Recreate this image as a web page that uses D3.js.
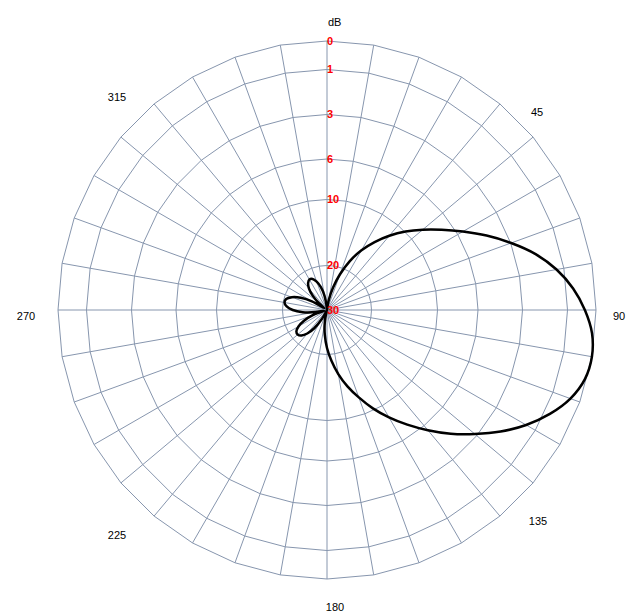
<!DOCTYPE html>
<html>
<head>
<meta charset="utf-8">
<script src="https://cdn.jsdelivr.net/npm/d3@7"></script>
<style>
  html, body { margin: 0; padding: 0; background: #ffffff; }
  svg { display: block; }
</style>
</head>
<body>
<svg id="chart" width="641" height="615"></svg>
<script>
// ---- data ----
const ringLevels = [0, 1, 3, 6, 10, 20, 30];           // dB rings
const ringLabels = ["0", "1", "3", "6", "10", "20", "30"];
const angleTickLabels = ["45", "90", "135", "180", "225", "270", "315"];
const angleTickValues = [45, 90, 135, 180, 225, 270, 315];
const spokeAngles = [0,10,20,30,40,50,60,70,80,90,100,110,120,130,140,150,160,170,
                     180,190,200,210,220,230,240,250,260,270,280,290,300,310,320,330,340,350];
const patternAngles = [0,5,10,15,20,25,30,35,40,45,50,55,60,65,70,75,80,85,90,95,
                       100,105,110,115,120,125,130,135,140,145,150,155,160,165,170,175,
                       180,185,190,195,200,205,210,215,220,225,230,235,240,245,250,255,
                       260,265,270,275,280,285,290,295,300,305,310,315,320,325,330,335,
                       340,345,350,355];
const patternDb = [30,29.78,27.75,24.83,21.46,18.56,16.29,14.17,12.05,9.95,
                   8.57,7.09,5.60,4.31,2.98,2.09,1.33,0.77,0.39,0.105,
                   0,0.07,0.35,0.81,1.47,2.27,3.17,4.38,5.60,7.09,
                   8.67,10.30,12.65,14.77,16.89,19.02,21.46,24.38,27.08,29.33,
                   30,30,27.6,25.0,23.1,21.9,21.4,21.6,22.6,24.3,26.6,29.3,
                   27.3,24.5,22.3,20.9,20.3,20.5,21.6,23.5,26.1,29.2,
                   27.7,25.5,23.7,22.6,22.1,22.3,23.2,24.7,26.8,29.3];
const unitLabel = "dB";

// ---- layout ----
const cx = 327, cy = 310;
const svg = d3.select("#chart");
const g = svg.append("g").attr("transform", `translate(${cx},${cy})`);

// radial scale (non-linear dB scale, piecewise)
const rScale = d3.scaleLinear()
  .domain(ringLevels)
  .range([269, 240.5, 195.5, 151, 110.5, 44.5, 0]);
const aScale = d3.scaleLinear().domain([0, 360]).range([0, 2 * Math.PI]);

const gridColor = "#8796ae";

function pt(angleDeg, r) {
  const a = aScale(angleDeg);
  return [r * Math.sin(a), -r * Math.cos(a)];
}

// rings (polygons through spokes)
const ringLine = d3.lineRadial()
  .angle(d => aScale(d.a))
  .radius(d => d.r)
  .curve(d3.curveLinearClosed);

g.selectAll("path.ring")
  .data(ringLevels.filter(v => rScale(v) > 0))
  .join("path")
  .attr("class", "ring")
  .attr("d", v => ringLine(spokeAngles.map(a => ({a, r: rScale(v)}))))
  .attr("fill", "none")
  .attr("stroke", gridColor)
  .attr("stroke-width", 1);

// spokes
g.selectAll("line.spoke")
  .data(spokeAngles)
  .join("line")
  .attr("class", "spoke")
  .attr("x1", 0).attr("y1", 0)
  .attr("x2", a => pt(a, rScale(0))[0])
  .attr("y2", a => pt(a, rScale(0))[1])
  .attr("stroke", gridColor)
  .attr("stroke-width", 1);

// hub where spokes converge
g.append("circle").attr("r", 4).attr("fill", gridColor);

// pattern curve
const patternData = patternAngles.map((a, i) => ({a, db: patternDb[i]}));
const patLine = d3.lineRadial()
  .angle(d => aScale(d.a))
  .radius(d => rScale(d.db))
  .curve(d3.curveCatmullRomClosed.alpha(0.5));

g.append("path")
  .datum(patternData)
  .attr("d", patLine)
  .attr("fill", "none")
  .attr("stroke", "#000000")
  .attr("stroke-width", 2.5)
  .attr("stroke-linejoin", "round");

// ring labels (red)
g.selectAll("text.rl")
  .data(ringLevels)
  .join("text")
  .attr("class", "rl")
  .attr("x", 0)
  .attr("y", v => -rScale(v))
  .attr("dy", "0.36em")
  .attr("text-anchor", "start")
  .attr("font-family", "'Liberation Sans', Arial, sans-serif")
  .attr("font-weight", "bold")
  .attr("font-size", 11)
  .attr("fill", "#ff0000")
  .text((v, i) => ringLabels[i]);

// unit label
g.append("text")
  .attr("x", 1)
  .attr("y", -rScale(0) - 15)
  .attr("text-anchor", "start")
  .attr("font-family", "'Liberation Sans', Arial, sans-serif")
  .attr("font-size", 11)
  .attr("fill", "#000")
  .text(unitLabel);

// angle labels (placement nudges per direction)
const labelNudge = {45: [0, 12], 90: [-5, 6], 135: [1, 1], 180: [8, 0],
                    225: [0, 15], 270: [-4, 6], 315: [0, -3]};
g.selectAll("text.al")
  .data(angleTickValues)
  .join("text")
  .attr("class", "al")
  .attr("x", a => pt(a, rScale(0) + 28)[0] + labelNudge[a][0])
  .attr("y", a => pt(a, rScale(0) + 28)[1] + labelNudge[a][1])
  .attr("dy", "0.36em")
  .attr("text-anchor", "middle")
  .attr("font-family", "'Liberation Sans', Arial, sans-serif")
  .attr("font-size", 11)
  .attr("fill", "#000")
  .text((a, i) => angleTickLabels[i]);
</script>
</body>
</html>
